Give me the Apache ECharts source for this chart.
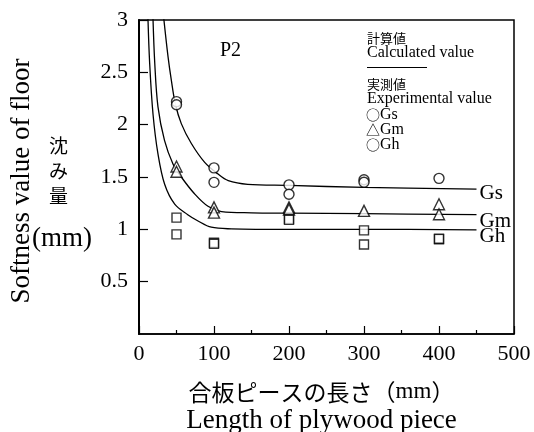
<!DOCTYPE html>
<html><head><meta charset="utf-8">
<script src="https://cdn.jsdelivr.net/npm/echarts@6/dist/echarts.min.js"></script>
<style>html,body{margin:0;padding:0;background:#fff}#c{width:534px;height:432px}</style>
</head><body><div id="c"></div>
<script>
// ---- data ----
const xTicks = [0, 100, 200, 300, 400, 500];
const yTicks = [0.5, 1, 1.5, 2, 2.5, 3];
// calculated curves (Gs, Gm, Gh): [length, softness]
const calcGs = [[32.5,3.05],[38.7,2.65],[43,2.43],[48.4,2.2],[56.4,2.01],[69.8,1.82],[87.6,1.64],[105,1.53],[119,1.465],[145,1.43],[200,1.42],[300,1.40],[450,1.385]];
const calcGm = [[18.5,3.05],[21,2.59],[25.3,2.17],[34,1.85],[45.3,1.625],[56.4,1.50],[74,1.34],[92,1.22],[110,1.17],[150,1.158],[200,1.155],[300,1.15],[450,1.14]];
const calcGh = [[11.8,3.05],[14.2,2.59],[18.7,2.1],[25.3,1.72],[34.2,1.43],[47.6,1.24],[65,1.14],[78.7,1.08],[96.4,1.02],[123,1.005],[200,1.0],[300,1.0],[450,0.995]];
// experimental values
const expGs = [[50,2.22],[50,2.19],[100,1.587],[100,1.449],[200,1.425],[200,1.335],[300,1.474],[300,1.45],[400,1.487]];
const expGm = [[50,1.60],[50,1.55],[100,1.21],[100,1.16],[200,1.21],[200,1.19],[300,1.176],[400,1.24],[400,1.144]];
const expGh = [[50,1.112],[50,0.952],[100,0.872],[100,0.862],[200,1.10],[200,1.09],[300,0.99],[300,0.855],[400,0.905],[400,0.91]];

const SERIF = '"Liberation Serif","Times New Roman",serif';
const CJK = '"Noto Sans CJK JP",sans-serif';
const chart = echarts.init(document.getElementById('c'), null, {renderer:'canvas'});

function curve(name, data, dy){
  return {type:'line', name, data, smooth:0.35, symbol:'none', clip:true,
    lineStyle:{color:'#000', width:1.3}, z:2,
    endLabel:{show:true, formatter:name, color:'#000', fontFamily:SERIF, fontSize:21, distance:3, offset:[0,dy]}};
}
function pts(data, symbol, size){
  return {type:'scatter', data, symbol, symbolSize:size, z:3,
    itemStyle:{color:'#fff', borderColor:'#000', borderWidth:1.4}};
}
function txt(x, y, text, font, size){
  return {type:'text', x, y, style:{text, fontFamily:font, fontSize:size, fill:'#000', verticalAlign:'middle'}};
}
function sym(x, y, s, label){
  return {type:'text', x, y, style:{text:'{s|'+s+'}{t|'+label+'}', verticalAlign:'middle',
    rich:{s:{fontFamily:CJK, fontSize:14, fill:'#000'}, t:{fontFamily:SERIF, fontSize:16, fill:'#000'}}}};
}

chart.setOption({
  animation:false,
  backgroundColor:'#fff',
  grid:{left:139, right:20, top:20, bottom:98, outerBoundsMode:'none', containLabel:false,
    show:true, borderColor:'#000', borderWidth:1.5, backgroundColor:'transparent'},
  xAxis:{type:'value', min:xTicks[0], max:xTicks[xTicks.length-1], interval:100,
    axisLine:{lineStyle:{color:'#000', width:1.5}},
    axisTick:{inside:true, length:8, lineStyle:{color:'#000', width:1.2}},
    minorTick:{show:true, splitNumber:2, length:4, lineStyle:{color:'#000', width:1.2}},
    splitLine:{show:false},
    axisLabel:{color:'#000', fontFamily:SERIF, fontSize:22, margin:9},
    name:'{a|合板ピースの長さ（}{m|mm}{a|）}\n{b|Length of plywood piece}',
    nameLocation:'middle', nameGap:44,
    nameTextStyle:{padding:[0,10,0,0], rich:{
      a:{fontFamily:CJK, fontSize:23, color:'#000', lineHeight:28},
      m:{fontFamily:SERIF, fontSize:23, color:'#000', lineHeight:28},
      b:{fontFamily:SERIF, fontSize:27, color:'#000', lineHeight:30}}}
  },
  yAxis:{type:'value', min:0, max:yTicks[yTicks.length-1], interval:0.5,
    axisLine:{lineStyle:{color:'#000', width:2}},
    axisTick:{inside:true, length:9, lineStyle:{color:'#000', width:1.2}},
    splitLine:{show:false},
    axisLabel:{color:'#000', fontFamily:SERIF, fontSize:22, margin:11, showMinLabel:false},
    name:'Softness value of floor', nameLocation:'middle', nameGap:104, nameRotate:90,
    nameTextStyle:{fontFamily:SERIF, fontSize:27, color:'#000', padding:[0,8,0,0]}
  },
  graphic:[
    {type:'text', left:220, top:41, style:{text:'P2', fontFamily:SERIF, fontSize:20, fill:'#000'}},
    txt(367, 38, '計算値', CJK, 13),
    txt(367, 53, 'Calculated value', SERIF, 16),
    {type:'line', shape:{x1:367, y1:67.5, x2:427, y2:67.5}, style:{stroke:'#000', lineWidth:1}},
    txt(367, 84, '実測値', CJK, 13),
    txt(367, 99, 'Experimental value', SERIF, 16),
    sym(366, 115, '○', 'Gs'),
    sym(366, 130, '△', 'Gm'),
    sym(366, 145, '○', 'Gh'),
    {type:'text', left:49, top:133, style:{text:'沈\nみ\n量', fontFamily:CJK, fontSize:19, lineHeight:25, fill:'#000'}},
    {type:'text', left:32, top:225, style:{text:'(mm)', fontFamily:SERIF, fontSize:27, fill:'#000'}}
  ],
  series:[
    curve('Gs', calcGs, 4), curve('Gm', calcGm, 7), curve('Gh', calcGh, 7),
    pts(expGs, 'circle', 10), pts(expGm, 'triangle', 11), pts(expGh, 'rect', 9)
  ]
});
</script></body></html>
